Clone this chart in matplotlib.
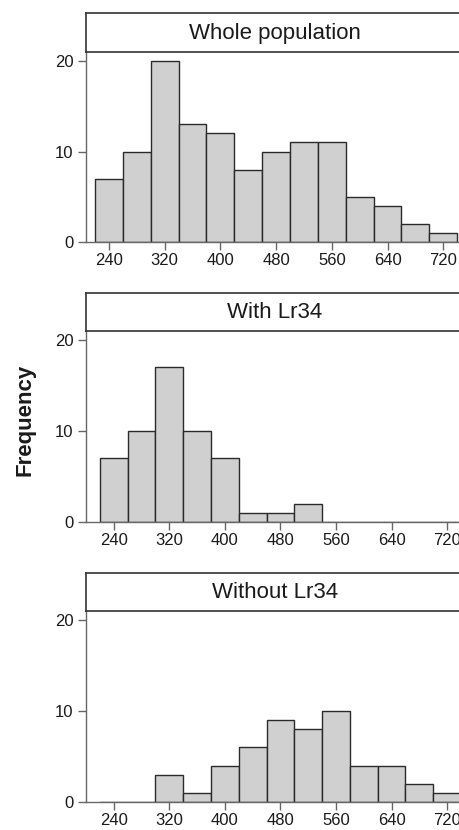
import numpy as np
import matplotlib
matplotlib.use("Agg")
import matplotlib.pyplot as plt

plt.rcParams['font.family'] = ['Liberation Sans', 'DejaVu Sans']

# bin centres (width 40) and counts per panel
bin_centers = [240, 280, 320, 360, 400, 440, 480, 520, 560, 600, 640, 680, 720]
whole_counts = [7, 10, 20, 13, 12, 8, 10, 11, 11, 5, 4, 2, 1]
with_counts = [7, 10, 17, 10, 7, 1, 1, 2, 0, 0, 0, 0, 0]
without_counts = [0, 0, 3, 1, 4, 6, 9, 8, 10, 4, 4, 2, 1]
panel_titles = ["Whole population", "With Lr34", "Without Lr34"]
x_ticks = [240, 320, 400, 480, 560, 640, 720]
y_ticks = [0, 10, 20]

W, H = 460, 830
fig = plt.figure(figsize=(W / 100, H / 100), dpi=100)

# pixel boxes: (zero line y, strip bottom y, strip top y, xlim)
panels = [
    (242, 52, 13, (207, 744)),
    (522, 331, 293, (200, 738.5)),
    (802, 611, 573, (200, 738.5)),
]
all_counts = [whole_counts, with_counts, without_counts]

left_px = 86
for (y0, ys, yt, xl), counts, title in zip(panels, all_counts, panel_titles):
    ax = fig.add_axes([left_px / W, 1 - y0 / H, 1 - left_px / W, (y0 - ys) / H])
    ax.bar(bin_centers, counts, width=40, color='#d0d0d0',
           edgecolor='#2a2a2a', linewidth=1.0)
    ax.set_xlim(*xl)
    ax.set_ylim(0, 21)
    ax.set_xticks(x_ticks)
    ax.set_yticks(y_ticks)
    for s in ['top', 'right']:
        ax.spines[s].set_visible(False)
    for s in ['left', 'bottom']:
        ax.spines[s].set_color('#666666')
        ax.spines[s].set_linewidth(1.0)
    ax.tick_params(axis='both', length=6, width=1.0, color='#666666',
                   labelsize=12, labelcolor='#1a1a1a')
    ax.tick_params(axis='x', pad=2)
    ax.tick_params(axis='y', pad=3)

    # strip header
    sax = fig.add_axes([left_px / W, 1 - ys / H, 1 - left_px / W, (ys - yt) / H])
    sax.set_xticks([])
    sax.set_yticks([])
    sax.spines['right'].set_visible(False)
    for s in ['top', 'left', 'bottom']:
        sax.spines[s].set_color('#333333')
        sax.spines[s].set_linewidth(1.2)
    sax.text(0.505, 0.48, title, ha='center', va='center', fontsize=16,
             color='#1a1a1a', transform=sax.transAxes)

fig.text(25 / W, 1 - 420 / H, "Frequency", rotation=90, ha='center',
         va='center', fontsize=16, fontweight='bold', color='#1a1a1a')

fig.savefig("out.png", dpi=100)
